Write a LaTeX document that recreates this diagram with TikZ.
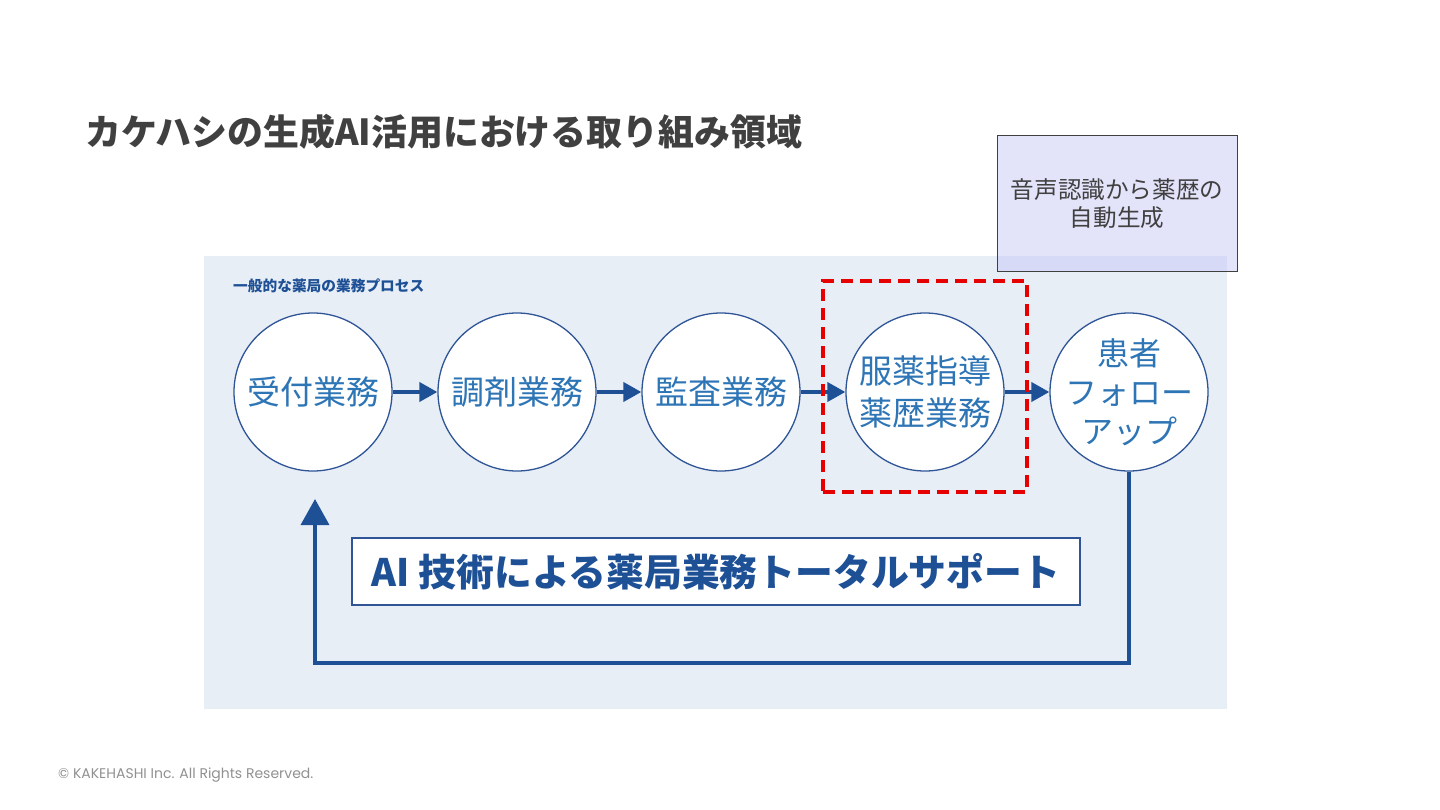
\documentclass[tikz,border=0pt]{standalone}
\usepackage{fontspec}
\setmainfont{Noto Sans CJK JP}
\newfontfamily\footfont{Poppins}
\usetikzlibrary{arrows.meta}
\definecolor{panelbg}{RGB}{232,238,246}
\definecolor{circtext}{RGB}{46,117,182}
\definecolor{circline}{RGB}{47,85,151}
\definecolor{flowblue}{RGB}{30,80,150}
\definecolor{titlegray}{RGB}{64,64,64}
\definecolor{lav}{RGB}{200,200,246}
\definecolor{footgray}{RGB}{145,145,145}
\definecolor{dashred}{RGB}{230,0,0}
\tikzset{
  proc/.style={circle, draw=circline, line width=1.3pt, fill=white, minimum size=158pt, inner sep=-20pt,
    text=circtext, align=center, font=\fontsize{33}{40}\selectfont},
  flow/.style={draw=flowblue, line width=4pt, -{Triangle[length=18pt,width=19pt]}},
  backflow/.style={draw=flowblue, line width=3.5pt, -{Triangle[length=26pt,width=28pt]}},
}
\begin{document}
\begin{tikzpicture}[x=1pt,y=-1pt]
\useasboundingbox (0,0) rectangle (1440,810);
\fill[white] (0,0) rectangle (1440,810);
% title
\node[anchor=base west, inner sep=0pt, text=titlegray, font=\fontsize{35.9}{40}\selectfont\bfseries] (title) at (85,146) {カケハシの生成AI活用における取り組み領域};
% panel
\node[fill=panelbg, minimum width=1023pt, minimum height=453pt, inner sep=0pt, anchor=north west] (panel) at (204,256) {};
\node[anchor=base west, inner sep=0pt, text=flowblue, font=\fontsize{14.7}{16}\selectfont\bfseries] (plabel) at (233,292) {一般的な薬局の業務プロセス};
% voice box
\node[draw=titlegray, line width=1pt, fill=lav, fill opacity=0.5, text opacity=1, text=titlegray,
  minimum width=240pt, minimum height=136pt, inner sep=0pt, align=center,
  font=\fontsize{23.6}{28}\selectfont] (voice) at (1117,204) {音声認識から薬歴の\\自動生成};
% circles
\node[proc] (c1) at (313,392) {受付業務};
\node[proc] (c2) at (517,392) {調剤業務};
\node[proc] (c3) at (721,392) {監査業務};
\node[proc, font=\fontsize{33}{42}\selectfont] (c4) at (925,392) {服薬指導\\薬歴業務};
\node[proc, font=\fontsize{32}{39}\selectfont] (c5) at (1129,392) {患者\\フォロー\\アップ};
\draw[flow] (c1) -- (c2);
\draw[flow] (c2) -- (c3);
\draw[flow] (c3) -- (c4);
\draw[flow] (c4) -- (c5);
% red dashed highlight
\node[draw=dashred, line width=3.2pt, dash pattern=on 12pt off 7pt, minimum width=204pt, minimum height=211pt, inner sep=0pt] (hl) at (925,386.5) {};
% AI support box
\node[draw=circline, line width=1.2pt, fill=white, minimum width=728pt, minimum height=67pt, inner sep=0pt,
  text=flowblue, font=\fontsize{37.8}{40}\selectfont\bfseries] (ai) at (716,571.5) {AI 技術による薬局業務トータルサポート};
% loop back
\coordinate (corner) at (315,663);
\coordinate (tip) at (315,499);
\draw[backflow] (c5.south) |- (corner) -- (tip);
% footer
\node[anchor=base west, inner sep=0pt, text=footgray, font=\footfont\fontsize{14}{16}\selectfont] (foot) at (58,778) {© KAKEHASHI Inc. All Rights Reserved.};
\end{tikzpicture}
\end{document}
